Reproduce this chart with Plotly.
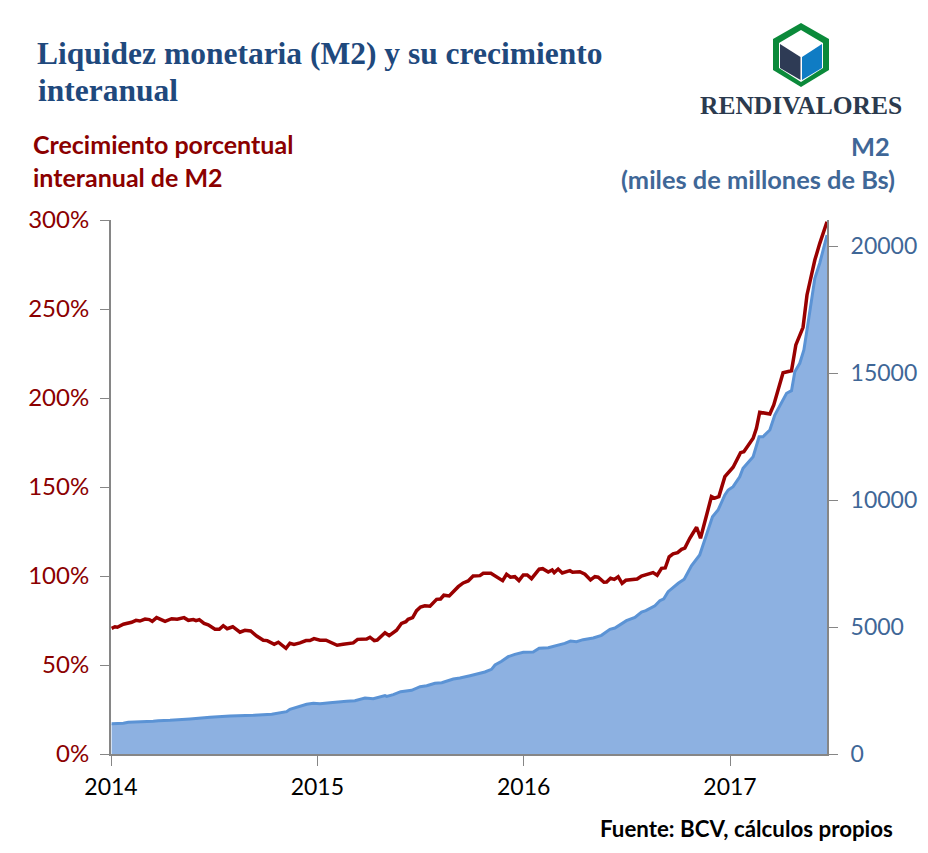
import plotly.graph_objects as go

crec_anio = [2014.003,2014.019,2014.031,2014.060,2014.100,2014.121,2014.140,2014.165,2014.186,2014.200,2014.221,2014.262,2014.294,2014.321,2014.354,2014.375,2014.399,2014.412,2014.428,2014.451,2014.471,2014.504,2014.525,2014.544,2014.563,2014.590,2014.625,2014.649,2014.677,2014.706,2014.738,2014.757,2014.791,2014.811,2014.848,2014.867,2014.887,2014.916,2014.945,2014.964,2014.984,2015.013,2015.042,2015.096,2015.125,2015.174,2015.195,2015.239,2015.255,2015.276,2015.290,2015.328,2015.348,2015.384,2015.408,2015.429,2015.440,2015.462,2015.481,2015.500,2015.521,2015.546,2015.578,2015.597,2015.613,2015.639,2015.683,2015.707,2015.731,2015.755,2015.788,2015.804,2015.841,2015.869,2015.898,2015.917,2015.936,2015.957,2015.977,2015.998,2016.017,2016.038,2016.075,2016.092,2016.119,2016.138,2016.148,2016.167,2016.187,2016.224,2016.237,2016.272,2016.297,2016.324,2016.345,2016.361,2016.389,2016.402,2016.421,2016.439,2016.458,2016.477,2016.495,2016.550,2016.571,2016.627,2016.647,2016.668,2016.686,2016.705,2016.724,2016.746,2016.765,2016.781,2016.805,2016.838,2016.857,2016.910,2016.926,2016.946,2016.975,2017.015,2017.051,2017.067,2017.112,2017.128,2017.144,2017.193,2017.212,2017.257,2017.298,2017.319,2017.354,2017.373,2017.411,2017.435,2017.470]
crec_pct = [70.6,71.5,71.2,72.9,74.0,75.1,74.7,75.8,75.5,74.5,76.6,74.5,76.0,75.7,76.6,75.1,75.5,74.9,75.5,73.4,72.6,70.1,70.1,72.1,70.4,71.5,68.4,69.5,69.1,66.3,63.9,63.7,61.6,62.8,59.4,62.2,61.6,62.4,63.7,63.7,64.8,63.9,63.9,61.1,61.6,62.4,64.4,64.6,65.6,63.7,64.0,68.1,66.5,69.5,73.4,74.3,75.7,76.6,80.5,82.6,83.3,83.0,86.9,87.1,89.2,88.8,94.0,96.1,97.2,100.0,100.2,101.5,101.5,99.6,97.4,101.0,99.3,99.6,97.4,100.6,100.6,98.5,103.8,104.1,102.2,103.4,101.9,103.9,101.7,103.0,102.1,102.4,101.0,97.8,99.6,99.3,96.5,96.6,98.7,98.1,99.6,95.9,97.6,98.3,100.0,101.9,100.4,104.3,104.5,110.8,112.5,113.1,115.0,115.7,121.2,127.4,121.2,144.6,143.7,144.6,155.8,161.1,169.3,169.8,177.4,183.0,192.0,191.0,196.1,214.2,215.3,229.8,239.7,257.9,277.5,286.9,299.0]

m2_anio = [2014.003,2014.060,2014.084,2014.140,2014.165,2014.205,2014.229,2014.286,2014.383,2014.431,2014.480,2014.577,2014.658,2014.690,2014.779,2014.819,2014.851,2014.867,2014.908,2014.948,2014.981,2015.013,2015.061,2015.102,2015.142,2015.182,2015.207,2015.231,2015.271,2015.303,2015.328,2015.336,2015.368,2015.404,2015.457,2015.498,2015.530,2015.570,2015.603,2015.659,2015.691,2015.740,2015.780,2015.812,2015.844,2015.861,2015.893,2015.925,2015.957,2015.998,2016.046,2016.075,2016.119,2016.167,2016.199,2016.227,2016.256,2016.288,2016.337,2016.377,2016.418,2016.442,2016.498,2016.539,2016.571,2016.592,2016.636,2016.660,2016.679,2016.700,2016.724,2016.749,2016.778,2016.813,2016.853,2016.878,2016.915,2016.942,2016.975,2016.991,2017.015,2017.047,2017.063,2017.112,2017.141,2017.160,2017.193,2017.217,2017.274,2017.298,2017.314,2017.338,2017.358,2017.378,2017.411,2017.435,2017.470]
m2_valor = [1193,1207,1247,1260,1286,1286,1312,1325,1378,1417,1444,1496,1535,1522,1562,1614,1667,1759,1864,1956,1995,1981,2021,2034,2073,2100,2165,2205,2179,2244,2297,2270,2336,2454,2507,2651,2690,2782,2808,2953,2992,3084,3150,3228,3333,3504,3650,3832,3924,4003,4016,4160,4187,4291,4357,4449,4423,4502,4567,4672,4908,4960,5249,5381,5590,5643,5838,6035,6113,6390,6562,6720,6878,7413,7835,8425,9342,9606,10197,10394,10524,10917,11248,11705,12492,12492,12756,13346,14201,14303,15051,15382,15905,16957,18728,19331,20433]

x_ticks = [2014, 2015, 2016, 2017]
x_labels = ["2014", "2015", "2016", "2017"]
pct_ticks = [0, 50, 100, 150, 200, 250, 300]
pct_labels = ["0%", "50%", "100%", "150%", "200%", "250%", "300%"]
m2_ticks = [0, 5000, 10000, 15000, 20000]

ROJO = "#990000"
AZUL = "#3F6797"
GRIS = "#868686"
SANS = "Lato, 'Open Sans', sans-serif"
SERIF = "'Liberation Serif', serif"

# the page has an 8 px body margin, so the figure is 8 px smaller on each axis
OFF = 8
L, R, T, B = 111, 827, 220, 754
W, H = 928, 853
px = lambda x: (x - L) / (R - L)
py = lambda y: (B - y) / (B - T)


def poly(points):
    return "M " + " L ".join(f"{px(a):.5f},{py(b):.5f}" for a, b in points) + " Z"


def shape(points, color):
    return dict(type="path", xref="paper", yref="paper", path=poly(points),
                fillcolor=color, line=dict(width=0), layer="above")


def note(x, y, text, color, size, anchor="left", family=SANS):
    return dict(xref="paper", yref="paper", x=px(x), y=py(y), text=text, showarrow=False,
                xanchor=anchor, yanchor="middle", align=anchor,
                font=dict(family=family, size=size, color=color))


fig = go.Figure()
fig.add_trace(go.Scatter(x=m2_anio, y=m2_valor, mode="lines", name="M2", yaxis="y",
                         fill="tozeroy", fillcolor="#8DB1E1",
                         line=dict(color="#5B93D5", width=3)))
fig.add_trace(go.Scatter(x=crec_anio, y=crec_pct, mode="lines", name="Crecimiento interanual",
                         yaxis="y2", line=dict(color=ROJO, width=3.5)))

axis_common = dict(showgrid=False, zeroline=False, showline=True, linecolor=GRIS, linewidth=2,
                   ticks="outside", tickcolor=GRIS, tickwidth=1)

fig.update_layout(
    width=W - OFF, height=H - OFF,
    autosize=False,
    margin=dict(l=L - OFF, r=W - R, t=T - OFF, b=H - B),
    paper_bgcolor="white", plot_bgcolor="white",
    showlegend=False,
    title=dict(text="Liquidez monetaria (M2) y su crecimiento",
               x=(37 - OFF) / (W - OFF), xanchor="left", xref="container",
               y=1 - (42 - OFF) / (H - OFF), yanchor="top",
               font=dict(family=SERIF, size=31.5, color="#1F497D", weight="bold")),
    xaxis=dict(range=[2014, 2017.47], tickvals=x_ticks, ticktext=x_labels, ticklen=10,
               tickfont=dict(family=SANS, size=23, color="black"), ticklabelstandoff=1,
               **axis_common),
    yaxis=dict(range=[0, 20000 * (B - T) / 508], side="right", tickvals=m2_ticks, ticklen=9,
               tickfont=dict(family=SANS, size=23, color=AZUL), ticklabelstandoff=8,
               tickformat="d", **axis_common),
    yaxis2=dict(range=[0, 300], side="left", overlaying="y", tickvals=pct_ticks, ticktext=pct_labels,
                ticklen=9, tickfont=dict(family=SANS, size=24, color="#8B0000"), ticklabelstandoff=6,
                **axis_common),
    annotations=[
        note(36, 90, "<b>interanual</b>", "#1F497D", 31.5, "left", SERIF),
        note(31, 144, "<b>Crecimiento porcentual</b>", "#8B0000", 25),
        note(31, 177, "<b>interanual de M2</b>", "#8B0000", 25),
        note(892, 146, "<b>M2</b>", AZUL, 25.4, "right"),
        note(897, 179, "<b>(miles de millones de Bs)</b>", AZUL, 25.4, "right"),
        note(895, 828, "<b>Fuente: BCV, cálculos propios</b>", "black", 22.3, "right"),
        note(801, 105, "<b>RENDIVALORES</b>", "#2B3A4E", 25.5, "center", SERIF),
    ],
    shapes=[
        shape([(801, 23), (829, 39), (829, 70), (801, 87), (773, 70), (773, 39)], "#0B8A3A"),
        shape([(801, 30), (823, 43), (823, 68), (801, 82), (779, 68), (779, 43)], "white"),
        shape([(780, 44), (800.5, 57), (800.5, 80), (780, 68)], "#2E3B55"),
        shape([(822, 44), (802, 57), (802, 80), (822, 68)], "#0F7CC4"),
    ],
)

fig.write_html("out.html")
